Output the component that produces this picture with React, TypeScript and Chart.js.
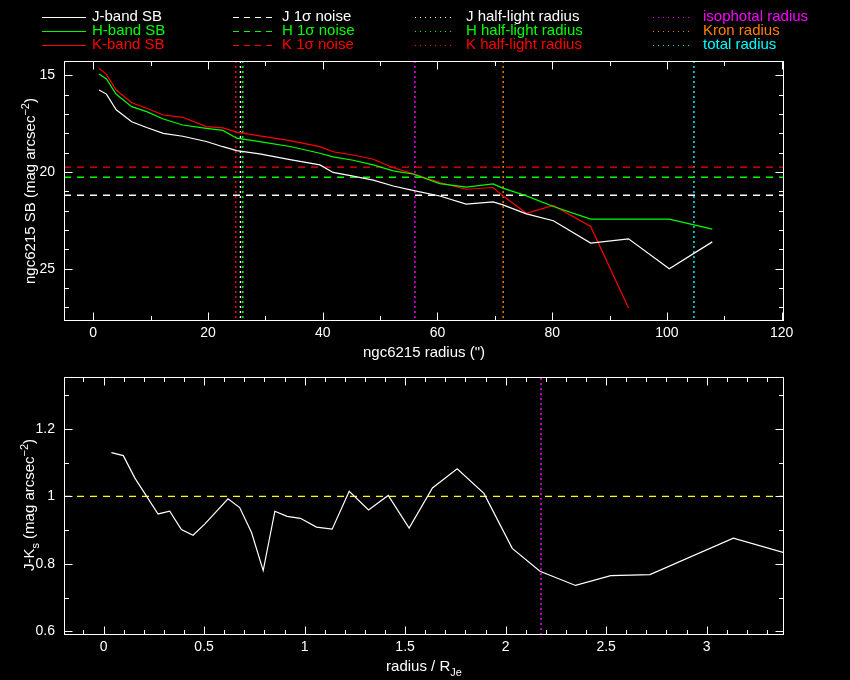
import React, { useEffect, useRef } from 'react';
import { Chart, registerables } from 'chart.js';
Chart.register(...registerables);

const FONT = '"Liberation Sans", Arial, sans-serif';

// ---------- top panel data ----------
const sbRadius = [1.0, 2.3, 4.0, 6.7, 9.3, 12.2, 15.6, 19.7, 22.6, 25.0, 29.0, 34.3, 39.5, 41.8, 45.3, 48.8, 52.3, 55.7, 60.4, 65.0, 69.7, 71.4, 75.5, 80.2, 86.7, 93.3, 100.4, 107.9];
const jSB = [15.76, 15.97, 16.78, 17.40, 17.70, 18.00, 18.15, 18.42, 18.69, 18.89, 19.06, 19.36, 19.63, 20.02, 20.21, 20.42, 20.72, 20.95, 21.24, 21.66, 21.54, 21.70, 22.16, 22.52, 23.67, 23.45, 25.0, 23.61];
const hSB = [14.93, 15.19, 15.98, 16.62, 16.88, 17.26, 17.57, 17.74, 17.85, 18.25, 18.43, 18.68, 19.03, 19.22, 19.39, 19.63, 19.94, 20.10, 20.60, 20.78, 20.61, 20.83, 21.23, 21.78, 22.43, 22.43, 22.43, 22.95];
const kSB = [14.64, 14.95, 15.76, 16.42, 16.70, 17.05, 17.17, 17.65, 17.72, 17.94, 18.13, 18.38, 18.69, 18.95, 19.12, 19.34, 19.78, 20.08, 20.55, 20.89, 20.80, 21.23, 22.13, 21.73, 22.81, 27.03];

const noiseLevels = [21.20, 20.27, 19.75]; // J, H, K
const halfLightRadii = [25.66, 26.06, 24.84]; // J, H, K
const otherRadii = [56.07, 71.45, 104.7]; // isophotal, Kron, total

const topXRange = [-5.1, 120.4];
const topYRange = [14.26, 27.7];
const topXTicks = [0, 20, 40, 60, 80, 100, 120];
const topXMinor = [10, 30, 50, 70, 90, 110];
const topYTicks = [15, 20, 25];
const topYMinor = [16, 17, 18, 19, 21, 22, 23, 24, 26, 27];

// ---------- bottom panel data ----------
const colorRadius = [0.039, 0.098, 0.155, 0.271, 0.329, 0.387, 0.445, 0.503, 0.619, 0.677, 0.736, 0.794, 0.852, 0.913, 0.979, 1.059, 1.137, 1.222, 1.318, 1.416, 1.520, 1.636, 1.759, 1.892, 2.033, 2.171, 2.348, 2.523, 2.718, 3.133, 3.385];
const colorJK = [1.130, 1.121, 1.055, 0.948, 0.956, 0.902, 0.885, 0.918, 0.993, 0.967, 0.893, 0.780, 0.956, 0.941, 0.935, 0.909, 0.903, 1.015, 0.960, 1.003, 0.906, 1.025, 1.082, 1.009, 0.846, 0.778, 0.736, 0.765, 0.768, 0.876, 0.833];
const colorRefLevel = 1.0;
const isophotalRatio = 2.176;

const botXRange = [-0.197, 3.385];
const botYRange = [0.589, 1.353];
const botXTicks = [0, 0.5, 1, 1.5, 2, 2.5, 3];
const botXMinor = [-0.1, 0.1, 0.2, 0.3, 0.4, 0.6, 0.7, 0.8, 0.9, 1.1, 1.2, 1.3, 1.4, 1.6, 1.7, 1.8, 1.9, 2.1, 2.2, 2.3, 2.4, 2.6, 2.7, 2.8, 2.9, 3.1, 3.2, 3.3];
const botYTicks = [0.6, 0.8, 1.0, 1.2];
const botYMinor = [0.7, 0.9, 1.1, 1.3];

// ---------- legend ----------
const legendLabels = [
  ['J-band SB', 'H-band SB', 'K-band SB'],
  ['J 1\u03c3 noise', 'H 1\u03c3 noise', 'K 1\u03c3 noise'],
  ['J half-light radius', 'H half-light radius', 'K half-light radius'],
  ['isophotal radius', 'Kron radius', 'total radius'],
];
const bandColors = ['#ffffff', '#00ff00', '#ff0000'];
const radiusColors = ['#ff00ff', '#ff8000', '#00ffff'];

type Part = { t: string; mode?: 'sup' | 'sub' };

function drawRich(ctx: CanvasRenderingContext2D, parts: Part[], cx: number, cy: number, rot: number, size: number) {
  ctx.save();
  ctx.translate(cx, cy);
  if (rot) ctx.rotate(rot);
  ctx.fillStyle = '#ffffff';
  ctx.textBaseline = 'alphabetic';
  ctx.textAlign = 'left';
  const small = Math.round(size * 0.72);
  let w = 0;
  const widths = parts.map((p) => {
    ctx.font = `${p.mode ? small : size}px ${FONT}`;
    const m = ctx.measureText(p.t).width;
    w += m;
    return m;
  });
  let x = -w / 2;
  parts.forEach((p, i) => {
    ctx.font = `${p.mode ? small : size}px ${FONT}`;
    const dy = p.mode === 'sup' ? -size * 0.45 : p.mode === 'sub' ? size * 0.3 : 0;
    ctx.fillText(p.t, x, size * 0.36 + dy);
    x += widths[i];
  });
  ctx.restore();
}

function framePlugin(xMajor: number[], xMinor: number[], yMajor: number[], yMinor: number[], extra: (c: Chart) => void) {
  return {
    id: 'frame' + Math.random().toString(36).slice(2),
    afterDraw(chart: any) {
      const ctx: CanvasRenderingContext2D = chart.ctx;
      const a = chart.chartArea;
      const xs = chart.scales.x;
      const ys = chart.scales.y;
      ctx.save();
      ctx.strokeStyle = '#ffffff';
      ctx.lineWidth = 1;
      ctx.setLineDash([]);
      const L = Math.round(a.left) + 0.5, R = Math.round(a.right) - 0.5;
      const T = Math.round(a.top) + 0.5, B = Math.round(a.bottom) - 0.5;
      ctx.strokeRect(L, T, R - L, B - T);
      ctx.beginPath();
      const xt = (v: number, len: number) => {
        const p = Math.round(xs.getPixelForValue(v)) + 0.5;
        ctx.moveTo(p, B); ctx.lineTo(p, B - len);
        ctx.moveTo(p, T); ctx.lineTo(p, T + len);
      };
      const yt = (v: number, len: number) => {
        const p = Math.round(ys.getPixelForValue(v)) + 0.5;
        ctx.moveTo(L, p); ctx.lineTo(L + len, p);
        ctx.moveTo(R, p); ctx.lineTo(R - len, p);
      };
      xMajor.forEach((v) => xt(v, 8));
      xMinor.forEach((v) => xt(v, 4.5));
      yMajor.forEach((v) => yt(v, 8));
      yMinor.forEach((v) => yt(v, 4.5));
      ctx.stroke();
      ctx.restore();
      extra(chart);
    },
  };
}

const pts = (xs: number[], ys: number[]) => ys.map((y, i) => ({ x: xs[i], y }));

function lineDs(data: any[], color: string, dash: number[] = [], width = 1.2) {
  return {
    data,
    borderColor: color,
    backgroundColor: color,
    borderWidth: width,
    borderDash: dash,
    pointRadius: 0,
    tension: 0,
    fill: false,
  };
}

function axisOpts(range: number[], ticks: number[], fmt: (v: number) => string, isX: boolean, size: number, reverse = false) {
  return {
    type: 'linear',
    min: range[0],
    max: range[1],
    reverse,
    grid: { display: false, drawTicks: false },
    border: { display: false },
    afterBuildTicks: (s: any) => { s.ticks = ticks.map((v) => ({ value: v })); },
    afterFit: (s: any) => { if (isX) s.height = size; else s.width = size; },
    ticks: {
      color: '#ffffff',
      font: { family: FONT, size: 14 },
      padding: isX ? 4 : 9,
      autoSkip: false,
      maxRotation: 0,
      callback: (v: any) => fmt(Number(v)),
    },
  };
}

export default function App() {
  const topRef = useRef<HTMLCanvasElement>(null);
  const botRef = useRef<HTMLCanvasElement>(null);

  useEffect(() => {
    const dashN = [7, 6];
    const dotN = [2, 3];
    const topDatasets: any[] = [
      lineDs(pts(sbRadius, jSB), bandColors[0]),
      lineDs(pts(sbRadius, hSB), bandColors[1]),
      lineDs(pts(sbRadius, kSB), bandColors[2]),
    ];
    noiseLevels.forEach((n, i) => topDatasets.push(lineDs([{ x: topXRange[0], y: n }, { x: topXRange[1], y: n }], bandColors[i], dashN, 1.3)));
    halfLightRadii.forEach((r, i) => topDatasets.push(lineDs([{ x: r, y: topYRange[0] }, { x: r, y: topYRange[1] }], bandColors[i], dotN, 1.4)));
    otherRadii.forEach((r, i) => topDatasets.push(lineDs([{ x: r, y: topYRange[0] }, { x: r, y: topYRange[1] }], radiusColors[i], dotN, 1.4)));

    const topExtra = (chart: any) => {
      const ctx: CanvasRenderingContext2D = chart.ctx;
      drawRich(ctx, [{ t: 'ngc6215 radius (")' }], 424, 352, 0, 15);
      drawRich(ctx, [{ t: 'ngc6215 SB (mag arcsec' }, { t: '\u22122', mode: 'sup' }, { t: ')' }], 30, 191, -Math.PI / 2, 15);
      // legend
      const rows = [17, 31, 44.5];
      const cols = [
        { x0: 42, x1: 86, tx: 92, dash: [] as number[] },
        { x0: 233, x1: 276, tx: 282, dash: [6, 5] },
        { x0: 415, x1: 455, tx: 466, dash: [1, 4] },
        { x0: 653, x1: 693, tx: 703, dash: [1, 4] },
      ];
      ctx.save();
      cols.forEach((c, ci) => {
        rows.forEach((ry, ri) => {
          const color = ci === 3 ? radiusColors[ri] : bandColors[ri];
          ctx.strokeStyle = color;
          ctx.lineWidth = 1;
          ctx.setLineDash(c.dash);
          ctx.beginPath();
          ctx.moveTo(c.x0, Math.round(ry) + 0.5);
          ctx.lineTo(c.x1, Math.round(ry) + 0.5);
          ctx.stroke();
          ctx.setLineDash([]);
          ctx.fillStyle = color;
          ctx.font = `15px ${FONT}`;
          ctx.textBaseline = 'middle';
          ctx.textAlign = 'left';
          ctx.fillText(legendLabels[ci][ri], c.tx, ry);
        });
      });
      ctx.restore();
    };

    const top = new Chart(topRef.current as HTMLCanvasElement, {
      type: 'line',
      data: { datasets: topDatasets },
      options: {
        animation: false,
        responsive: false,
        devicePixelRatio: 1,
        layout: { padding: { left: 0, top: 61, right: 66, bottom: 0 } },
        plugins: { legend: { display: false }, tooltip: { enabled: false } },
        scales: {
          x: axisOpts(topXRange, topXTicks, (v) => String(v), true, 39),
          y: axisOpts(topYRange, topYTicks, (v) => String(v), false, 64, true),
        } as any,
      },
      plugins: [framePlugin(topXTicks, topXMinor, topYTicks, topYMinor, topExtra) as any],
    });

    const botDatasets: any[] = [
      lineDs(pts(colorRadius, colorJK), '#ffffff'),
      lineDs([{ x: botXRange[0], y: colorRefLevel }, { x: botXRange[1], y: colorRefLevel }], '#ffff00', dashN, 1.3),
      lineDs([{ x: isophotalRatio, y: botYRange[0] }, { x: isophotalRatio, y: botYRange[1] }], '#ff00ff', dotN, 1.4),
    ];
    const botExtra = (chart: any) => {
      const ctx: CanvasRenderingContext2D = chart.ctx;
      drawRich(ctx, [{ t: 'radius / R' }, { t: 'Je', mode: 'sub' }], 424, 306, 0, 15);
      drawRich(ctx, [{ t: 'J-K' }, { t: 's', mode: 'sub' }, { t: ' (mag arcsec' }, { t: '\u22122', mode: 'sup' }, { t: ')' }], 29, 145, -Math.PI / 2, 15);
    };
    const bot = new Chart(botRef.current as HTMLCanvasElement, {
      type: 'line',
      data: { datasets: botDatasets },
      options: {
        animation: false,
        responsive: false,
        devicePixelRatio: 1,
        layout: { padding: { left: 0, top: 15, right: 66, bottom: 0 } },
        plugins: { legend: { display: false }, tooltip: { enabled: false } },
        scales: {
          x: axisOpts(botXRange, botXTicks, (v) => String(v), true, 45),
          y: axisOpts(botYRange, botYTicks, (v) => (Math.abs(v - 1) < 1e-9 ? '1' : v.toFixed(1)), false, 64),
        } as any,
      },
      plugins: [framePlugin(botXTicks, botXMinor, botYTicks, botYMinor, botExtra) as any],
    });

    return () => {
      top.destroy();
      bot.destroy();
    };
  }, []);

  return (
    <div style={{ position: 'absolute', left: 0, top: 0, width: 850, height: 680, background: '#000000', overflow: 'hidden' }}>
      <canvas ref={topRef} width={850} height={360} style={{ position: 'absolute', left: 0, top: 0, width: 850, height: 360 }} />
      <canvas ref={botRef} width={850} height={320} style={{ position: 'absolute', left: 0, top: 360, width: 850, height: 320 }} />
    </div>
  );
}
